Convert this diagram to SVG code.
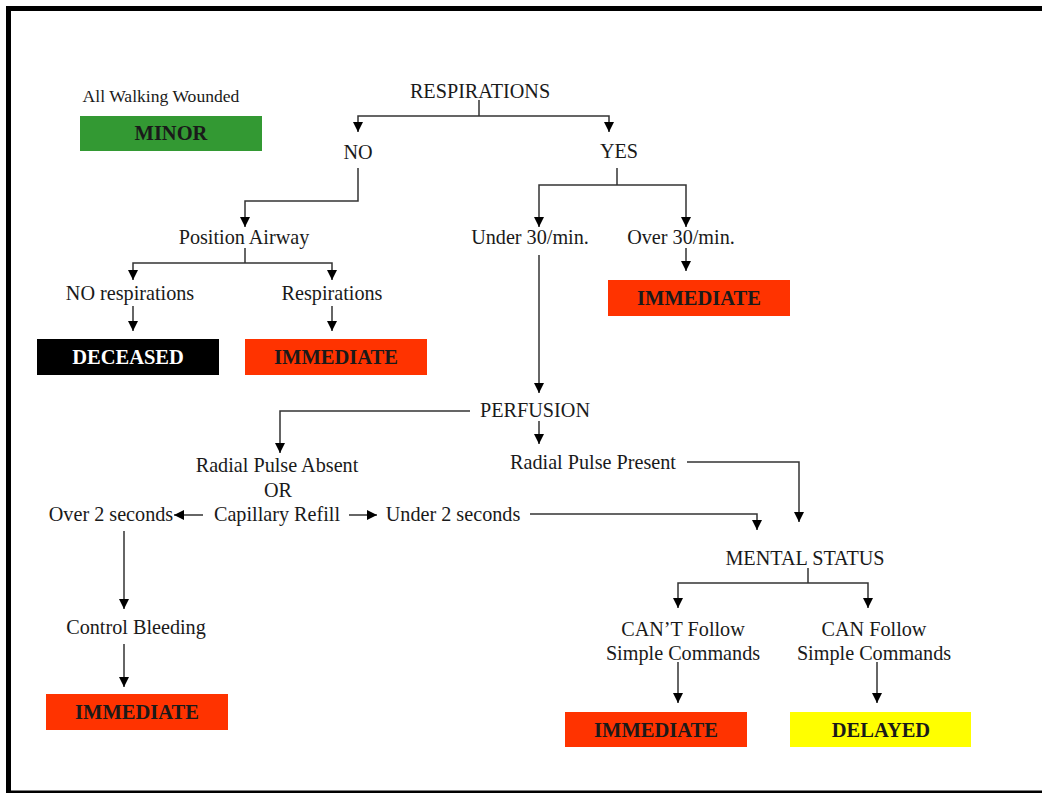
<svg xmlns="http://www.w3.org/2000/svg" width="1042" height="793" viewBox="0 0 1042 793">
<style>
.t{font-family:"Liberation Serif","Times New Roman",serif;font-size:20.2px;fill:#1a1a1a;text-anchor:middle}
.s{font-size:17.6px}
.b{font-family:"Liberation Serif","Times New Roman",serif;font-size:20.5px;font-weight:bold;fill:#1a1a1a;text-anchor:middle}
.w{fill:#ffffff}
.c{fill:none;stroke:#333333;stroke-width:1.5}
.a{marker-end:url(#ah)}
</style>
<defs>
<marker id="ah" markerUnits="userSpaceOnUse" markerWidth="10" markerHeight="10" viewBox="0 0 10 10" refX="10" refY="5" orient="auto">
<path d="M0,0 L10,5 L0,10 z" fill="#000"/>
</marker>
</defs>
<rect width="1042" height="793" fill="#ffffff"/>
<path d="M8.5,793 V8.5 H1042" fill="none" stroke="#000" stroke-width="5"/>
<path d="M8,792 H1042" fill="none" stroke="#000" stroke-width="3"/>

<g id="connectors">
<path class="c" d="M479,100 V116"/>
<path class="c a" d="M479,116 H358 V132"/>
<path class="c a" d="M479,116 H609 V132"/>
<path class="c a" d="M358,168 V201 H245 V227"/>
<path class="c" d="M245,248 V263"/>
<path class="c a" d="M245,263 H133 V280"/>
<path class="c a" d="M245,263 H332 V280"/>
<path class="c a" d="M133,306 V331"/>
<path class="c a" d="M332,306 V331"/>
<path class="c" d="M617,168 V185"/>
<path class="c a" d="M617,185 H539 V227"/>
<path class="c a" d="M617,185 H686 V227"/>
<path class="c a" d="M686,248 V271"/>
<path class="c a" d="M539,255 V393"/>
<path class="c a" d="M470,411 H280 V453"/>
<path class="c a" d="M539,421 V444"/>
<path class="c a" d="M203,515 H174"/>
<path class="c a" d="M349,515 H377"/>
<path class="c a" d="M530,514 H757 V530"/>
<path class="c a" d="M687,462 H799 V522"/>
<path class="c" d="M808,568 V583"/>
<path class="c a" d="M808,583 H678 V608"/>
<path class="c a" d="M808,583 H868 V608"/>
<path class="c a" d="M678,662 V703"/>
<path class="c a" d="M877,662 V703"/>
<path class="c a" d="M124,531 V609"/>
<path class="c a" d="M124,644 V687"/>
</g>

<g id="walking"><text class="t s" x="161" y="102">All Walking Wounded</text></g>
<g id="minor"><rect x="80" y="116" width="182" height="35" fill="#339933"/><text class="b" x="171" y="140">MINOR</text></g>
<g id="respirations"><text class="t" x="480" y="98">RESPIRATIONS</text></g>
<g id="no"><text class="t" x="358" y="159">NO</text></g>
<g id="yes"><text class="t" x="619" y="158">YES</text></g>
<g id="position-airway"><text class="t" x="244" y="244">Position Airway</text></g>
<g id="no-respirations"><text class="t" x="130" y="300">NO respirations</text></g>
<g id="respirations2"><text class="t" x="332" y="300">Respirations</text></g>
<g id="deceased"><rect x="37" y="339" width="182" height="36" fill="#000000"/><text class="b w" x="128" y="364">DECEASED</text></g>
<g id="immediate1"><rect x="245" y="339" width="182" height="36" fill="#ff3300"/><text class="b" x="336" y="364">IMMEDIATE</text></g>
<g id="under30"><text class="t" x="530" y="244">Under 30/min.</text></g>
<g id="over30"><text class="t" x="681" y="244">Over 30/min.</text></g>
<g id="immediate2"><rect x="608" y="280" width="182" height="36" fill="#ff3300"/><text class="b" x="699" y="305">IMMEDIATE</text></g>
<g id="perfusion"><text class="t" x="535" y="417">PERFUSION</text></g>
<g id="radial-absent"><text class="t" x="277" y="472">Radial Pulse Absent</text><text class="t" x="278" y="497">OR</text><text class="t" x="277" y="521">Capillary Refill</text></g>
<g id="over2"><text class="t" x="111" y="521">Over 2 seconds</text></g>
<g id="under2"><text class="t" x="453" y="521">Under 2 seconds</text></g>
<g id="radial-present"><text class="t" x="593" y="469">Radial Pulse Present</text></g>
<g id="control-bleeding"><text class="t" x="136" y="634">Control Bleeding</text></g>
<g id="immediate3"><rect x="46" y="694" width="182" height="36" fill="#ff3300"/><text class="b" x="137" y="719">IMMEDIATE</text></g>
<g id="mental-status"><text class="t" x="805" y="565">MENTAL STATUS</text></g>
<g id="cant-follow"><text class="t" x="683" y="636">CAN’T Follow</text><text class="t" x="683" y="660">Simple Commands</text></g>
<g id="can-follow"><text class="t" x="874" y="636">CAN Follow</text><text class="t" x="874" y="660">Simple Commands</text></g>
<g id="immediate4"><rect x="565" y="712" width="182" height="35" fill="#ff3300"/><text class="b" x="656" y="737">IMMEDIATE</text></g>
<g id="delayed"><rect x="790" y="712" width="181" height="35" fill="#ffff00"/><text class="b" x="881" y="737">DELAYED</text></g>
</svg>
